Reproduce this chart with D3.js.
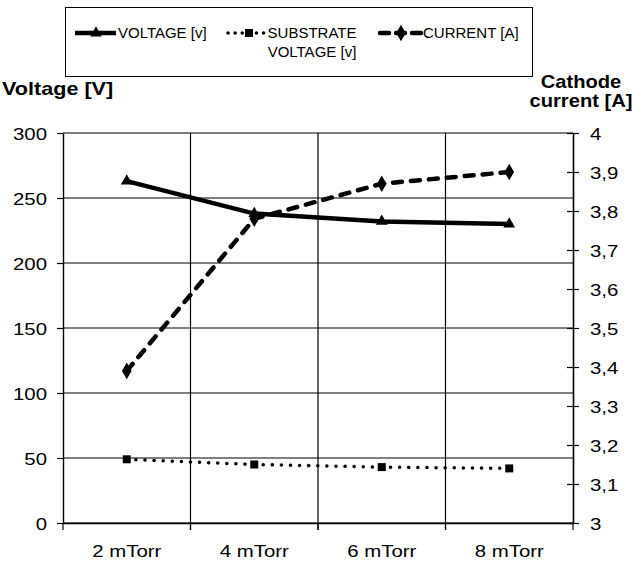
<!DOCTYPE html>
<html>
<head>
<meta charset="utf-8">
<script src="https://cdn.jsdelivr.net/npm/d3@7/dist/d3.min.js"></script>
<style>
  body { margin: 0; background: #fff; }
  svg { display: block; font-family: "Liberation Sans", Arial, sans-serif; }
</style>
</head>
<body>
<svg id="chart" width="632" height="562"></svg>
<script>
const categories = ["2 mTorr", "4 mTorr", "6 mTorr", "8 mTorr"];
const voltage = [263, 238, 232, 230];
const substrateVoltage = [49, 45, 43, 42];
const current = [3.39, 3.78, 3.87, 3.9];
const voltageTicks = [0, 50, 100, 150, 200, 250, 300];
const currentTicks = [3, 3.1, 3.2, 3.3, 3.4, 3.5, 3.6, 3.7, 3.8, 3.9, 4];

const svg = d3.select("#chart");
const plotLeft = 63, plotRight = 573, plotTop = 133, plotBottom = 523;
const stretch = 1.2;

const x = d3.scaleBand().domain(categories).range([plotLeft, plotRight]);
const yL = d3.scaleLinear().domain([0, 300]).range([plotBottom, plotTop]);
const yR = d3.scaleLinear().domain([3, 4]).range([plotBottom, plotTop]);

// horizontal gridlines
svg.append("g")
  .selectAll("line")
  .data(voltageTicks)
  .join("line")
  .attr("x1", plotLeft)
  .attr("x2", plotRight)
  .attr("y1", d => yL(d))
  .attr("y2", d => yL(d))
  .attr("stroke", "#000")
  .attr("stroke-width", 1.2);

// vertical gridlines at category boundaries
const bounds = categories.slice(1).map(c => x(c));
svg.append("g")
  .selectAll("line")
  .data(bounds)
  .join("line")
  .attr("x1", d => d)
  .attr("x2", d => d)
  .attr("y1", plotTop)
  .attr("y2", plotBottom + 7)
  .attr("stroke", "#000")
  .attr("stroke-width", 1.2);

// left axis
const gL = svg.append("g")
  .attr("transform", `translate(${plotLeft},0)`)
  .call(d3.axisLeft(yL).tickValues(voltageTicks).tickSize(6).tickSizeOuter(0));
gL.select(".domain").attr("stroke-width", 1.4);
gL.selectAll(".tick line").attr("stroke-width", 1.2);
gL.selectAll(".tick text")
  .attr("x", 0)
  .attr("dy", "0.36em")
  .attr("transform", `translate(-16,0) scale(${stretch},1)`)
  .attr("font-size", 17)
  .attr("font-family", "Liberation Sans, Arial, sans-serif")
  .attr("fill", "#000");

// right axis, ticks cross the line
const gR = svg.append("g")
  .attr("transform", `translate(${plotRight},0)`)
  .call(d3.axisRight(yR).tickValues(currentTicks).tickSize(6).tickSizeOuter(0)
    .tickFormat(d => d3.format(".1f")(d).replace(".", ",").replace(",0", "")));
gR.select(".domain").attr("stroke-width", 1.6);
gR.selectAll(".tick line").attr("x1", -6).attr("stroke-width", 1.2);
gR.selectAll(".tick text")
  .attr("x", 0)
  .attr("dy", "0.36em")
  .attr("transform", `translate(17,0) scale(${stretch},1)`)
  .attr("font-size", 17)
  .attr("font-family", "Liberation Sans, Arial, sans-serif")
  .attr("fill", "#000");

// bottom axis
const gB = svg.append("g")
  .attr("transform", `translate(0,${plotBottom})`)
  .call(d3.axisBottom(x).tickSize(0));
gB.select(".domain").attr("stroke-width", 1.6);
gB.selectAll(".tick text")
  .attr("y", 0)
  .attr("dy", 0)
  .attr("transform", `translate(0,34) scale(${stretch},1)`)
  .attr("font-size", 17)
  .attr("font-family", "Liberation Sans, Arial, sans-serif")
  .attr("fill", "#000");
gB.append("g")
  .selectAll("line")
  .data([plotLeft].concat(bounds, [plotRight]))
  .join("line")
  .attr("x1", d => d)
  .attr("x2", d => d)
  .attr("y1", 0)
  .attr("y2", 7)
  .attr("stroke", "#000")
  .attr("stroke-width", 1.2);

// axis titles
svg.append("text")
  .attr("transform", `translate(2,95) scale(${stretch},1)`)
  .attr("font-size", 18)
  .attr("font-weight", "bold")
  .text("Voltage [V]");

const rt = svg.append("text")
  .attr("transform", `translate(581,0) scale(1.12,1)`)
  .attr("text-anchor", "middle")
  .attr("font-size", 18)
  .attr("font-weight", "bold");
rt.append("tspan").attr("x", 0).attr("y", 88).text("Cathode");
rt.append("tspan").attr("x", 0).attr("y", 107).text("current [A]");

// series
const cx = c => x(c) + x.bandwidth() / 2;

const lineV = d3.line().x((d, i) => cx(categories[i])).y(d => yL(d));
const lineC = d3.line().x((d, i) => cx(categories[i])).y(d => yR(d));

svg.append("path")
  .datum(substrateVoltage)
  .attr("d", lineV)
  .attr("fill", "none")
  .attr("stroke", "#000")
  .attr("stroke-width", 3.5)
  .attr("stroke-linecap", "round")
  .attr("stroke-dasharray", "0.1,9");

svg.append("path")
  .datum(voltage)
  .attr("d", lineV)
  .attr("fill", "none")
  .attr("stroke", "#000")
  .attr("stroke-width", 4.5);

svg.append("path")
  .datum(current)
  .attr("d", lineC)
  .attr("fill", "none")
  .attr("stroke", "#000")
  .attr("stroke-width", 4.5)
  .attr("stroke-linecap", "round")
  .attr("stroke-dasharray", "9,9");

const tri = d3.symbol().type(d3.symbolTriangle).size(60);
const sq = d3.symbol().type(d3.symbolSquare).size(64);
const dia = d3.symbol().type(d3.symbolDiamond).size(80);

svg.append("g")
  .selectAll("path")
  .data(voltage)
  .join("path")
  .attr("transform", (d, i) => `translate(${cx(categories[i])},${yL(d)})`)
  .attr("d", tri);

svg.append("g")
  .selectAll("path")
  .data(substrateVoltage)
  .join("path")
  .attr("transform", (d, i) => `translate(${cx(categories[i])},${yL(d)})`)
  .attr("d", sq);

svg.append("g")
  .selectAll("path")
  .data(current)
  .join("path")
  .attr("transform", (d, i) => `translate(${cx(categories[i])},${yR(d)})`)
  .attr("d", dia);

// legend
const legend = svg.append("g");
legend.append("rect")
  .attr("x", 65.5).attr("y", 7.5)
  .attr("width", 467).attr("height", 69)
  .attr("fill", "#fff").attr("stroke", "#000").attr("stroke-width", 1);

const legendItems = [
  { x0: 75, label: ["VOLTAGE [v]"], dash: null, width: 4.5, cap: "butt", sym: tri },
  { x0: 228, label: ["SUBSTRATE", "VOLTAGE [v]"], dash: "0.1,7", width: 3.5, cap: "round", sym: sq },
  { x0: 380, label: ["CURRENT [A]"], dash: "9,7", width: 4.5, cap: "round", sym: dia }
];
legendItems.forEach(it => {
  legend.append("line")
    .attr("x1", it.x0).attr("x2", it.x0 + 41)
    .attr("y1", 33).attr("y2", 33)
    .attr("stroke", "#000")
    .attr("stroke-width", it.width)
    .attr("stroke-linecap", it.cap)
    .attr("stroke-dasharray", it.dash);
  legend.append("path")
    .attr("transform", `translate(${it.x0 + 21},33)`)
    .attr("d", it.sym);
  const t = legend.append("text")
    .attr("font-size", 15)
    .attr("text-anchor", it.label.length > 1 ? "middle" : "start");
  it.label.forEach((s, j) => {
    t.append("tspan")
      .attr("x", it.label.length > 1 ? it.x0 + 84 : it.x0 + 43)
      .attr("y", 38 + j * 19)
      .text(s);
  });
});
</script>
</body>
</html>
